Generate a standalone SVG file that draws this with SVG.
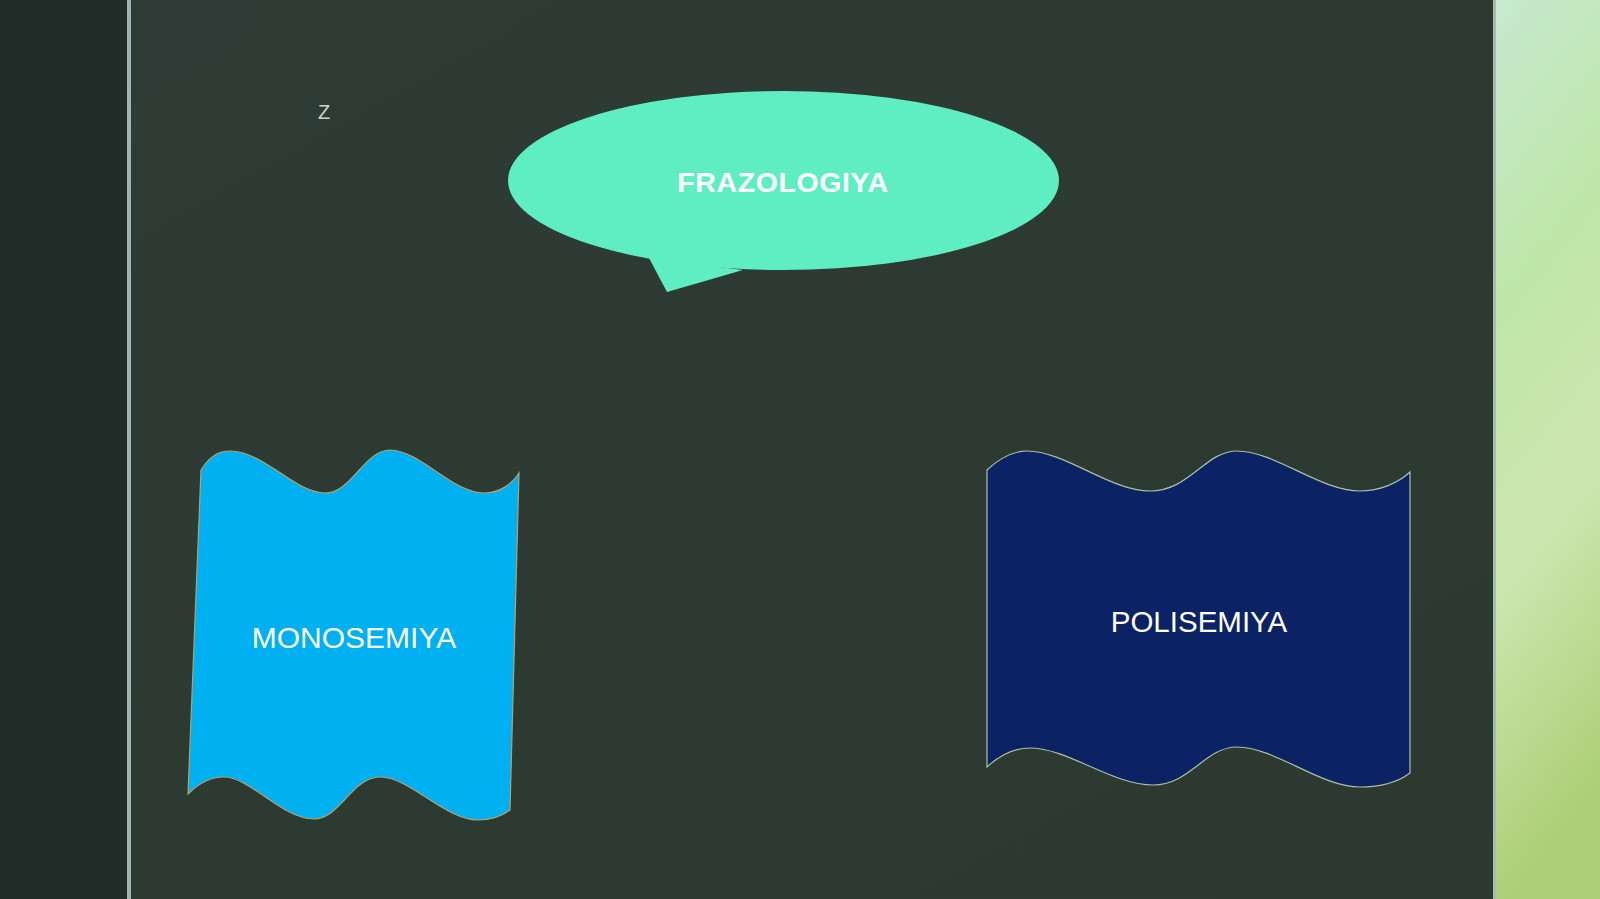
<svg xmlns="http://www.w3.org/2000/svg" width="1600" height="899" viewBox="0 0 1600 899">
<defs>
<linearGradient id="bgMain" x1="0" y1="0" x2="1" y2="1">
<stop offset="0" stop-color="#2f3b36"/>
<stop offset="0.5" stop-color="#2d3a32"/>
<stop offset="1" stop-color="#2c3830"/>
</linearGradient>
<linearGradient id="bgRight" x1="0" y1="0" x2="0.15" y2="1">
<stop offset="0" stop-color="#c8e9d0"/>
<stop offset="0.35" stop-color="#bfe6a8"/>
<stop offset="0.65" stop-color="#cde6b0"/>
<stop offset="1" stop-color="#adcf76"/>
</linearGradient>
<style>
.lbl{font-family:"Liberation Sans",Arial,sans-serif;fill:#ffffff;text-anchor:middle}
</style>
</defs>
<rect x="0" y="0" width="1600" height="899" fill="url(#bgMain)"/>
<rect x="0" y="0" width="127" height="899" fill="#212b27"/>
<rect x="127" y="0" width="4" height="899" fill="#9db5b5"/>
<rect x="1493" y="0" width="107" height="899" fill="url(#bgRight)"/>
<rect x="1493" y="0" width="3" height="899" fill="#a6bdb2"/>
<text x="324" y="119" font-family="Liberation Sans, Arial, sans-serif" font-size="20" fill="#c5d6d2" text-anchor="middle">Z</text>
<g id="connectors"></g>
<g id="frazologiya">
<path d="M649,258 L667,292 L743,270 Z" fill="#5feec2"/>
<ellipse cx="783.5" cy="180.5" rx="275.5" ry="89.5" fill="#5feec2"/>
<text class="lbl" x="783" y="192" font-size="28.5" font-weight="bold" letter-spacing="0.6">FRAZOLOGIYA</text>
</g>
<g id="monosemiya">
<path d="M201,470 C208,459 216,451 230,451 C264,451 295,493 325,493 C352,493 364,450 390,450 C420,450 452,493 484,493 C500,493 512,484 519,473 L510,810 C502,816 492,820 478,820 C445,820 410,777 380,777 C352,777 340,819 314,819 C282,819 250,777 224,777 C210,777 198,784 188,794 Z" fill="#00b0f0" stroke="#b3a36c" stroke-width="1.2"/>
<text class="lbl" x="354" y="648" font-size="30">MONOSEMIYA</text>
</g>
<g id="polisemiya">
<path d="M987,470 C1000,458 1012,451 1027,451 C1065,451 1110,491 1150,491 C1190,491 1205,451 1237,451 C1275,451 1320,491 1360,491 C1380,491 1398,483 1410,472 L1410,773 C1398,782 1382,787 1360,787 C1320,787 1275,747 1237,747 C1205,747 1190,785 1153,785 C1112,785 1068,748 1030,748 C1013,748 1000,755 987,767 Z" fill="#0b2265" stroke="#a8c3a0" stroke-width="1.2"/>
<text class="lbl" x="1199" y="632" font-size="29.5">POLISEMIYA</text>
</g>
</svg>
